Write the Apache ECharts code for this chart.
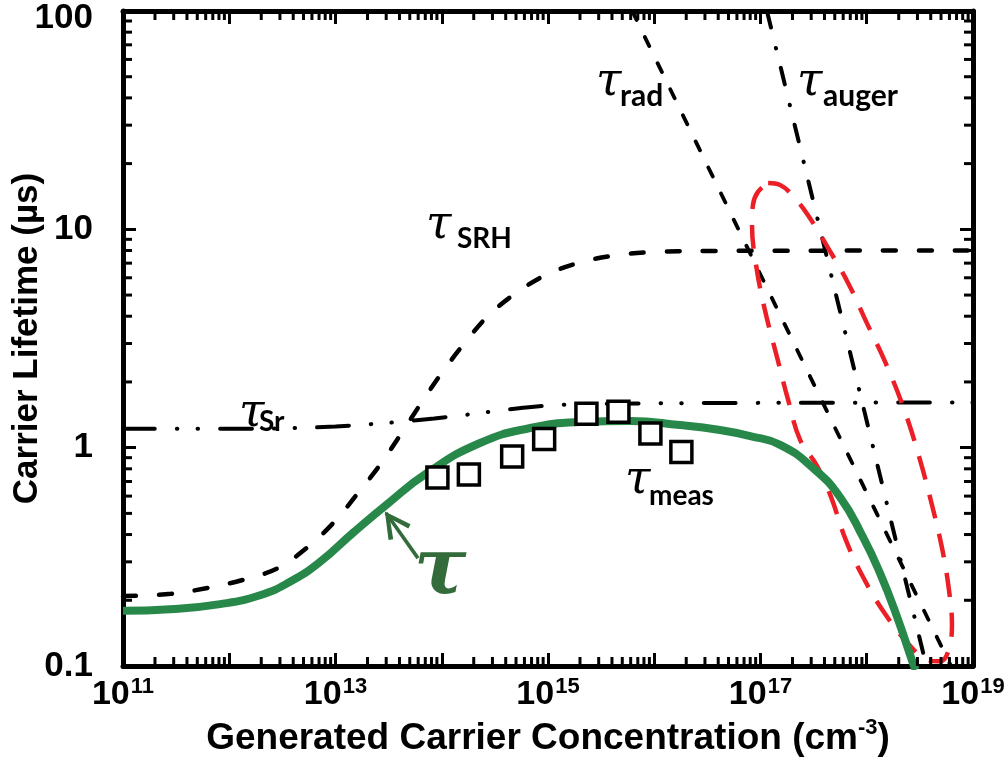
<!DOCTYPE html>
<html>
<head>
<meta charset="utf-8">
<script src="https://cdn.jsdelivr.net/npm/echarts@6/dist/echarts.min.js"></script>
<style>
  html, body { margin: 0; padding: 0; background: #fff; }
  #chart { width: 1008px; height: 762px; }
</style>
</head>
<body>
<div id="chart"></div>
<script>
// ---- Axis ranges -------------------------------------------------------
const xMin = 1e11, xMax = 1e19;
const yMin = 0.1, yMax = 100;

// ---- Tick labels -------------------------------------------------------
const xLabelExps = [11, 13, 15, 17, 19];
const yTickValues = [0.1, 1, 10, 100];
const yTickLabels = ['0.1', '1', '10', '100'];
const minorSteps = [2, 3, 4, 5, 6, 7, 8, 9];

// ---- Lifetime components (carrier concentration in cm^-3, lifetime in µs)
const srhN = [1e11, 2.83e11, 6.3e11, 1.35e12, 2.88e12, 5.5e12, 9.9e12, 1.63e13, 2.62e13, 4.13e13, 6.4e13, 1.0e14, 1.62e14, 2.72e14, 5.0e14, 1e15, 2.09e15, 4.66e15, 1.04e16, 2.69e16, 1e19];
const srhT = [0.209, 0.214, 0.228, 0.248, 0.281, 0.351, 0.461, 0.620, 0.833, 1.155, 1.60, 2.20, 2.99, 4.01, 5.11, 6.25, 7.09, 7.64, 7.88, 7.96, 8.0];

const srN = [1e11, 1.2e12, 1e13, 8.5e13, 7.4e14, 3.1e15, 1e19];
const srT = [1.22, 1.22, 1.25, 1.36, 1.54, 1.59, 1.61];

const radN = [6.2e15, 6.2e18];
const radT = [100, 0.1];

const augerN = [1.15e17, 3.64e18];
const augerT = [100, 0.1];

// Effective lifetime
const tauN = [1e11, 2.77e11, 8.2e11, 1.95e12, 3.73e12, 7.1e12, 1.46e13, 3.05e13, 7.3e13, 2.29e14, 6.8e14, 2.0e15, 5.9e15, 1.74e16, 4.16e16, 8.0e16, 1.53e17, 3.12e17, 5.6e17, 9.2e17, 1.33e18, 1.93e18, 2.72e18, 2.9e18];
const tauT = [0.179, 0.182, 0.192, 0.211, 0.243, 0.299, 0.407, 0.55, 0.766, 1.05, 1.23, 1.31, 1.325, 1.27, 1.205, 1.13, 1.03, 0.807, 0.594, 0.390, 0.267, 0.168, 0.103, 0.096];

// Measured lifetimes
const measN = [9.1e13, 1.8e14, 4.6e14, 9.2e14, 2.3e15, 4.6e15, 9.2e15, 1.8e16];
const measT = [0.73, 0.754, 0.911, 1.096, 1.43, 1.46, 1.16, 0.955];

// Highlight loop around the high-injection crossover
const loopN = [1.18e17, 1.53e17, 1.98e17, 2.80e17, 4.32e17, 6.67e17, 1.00e18, 1.49e18, 2.29e18, 3.17e18, 4.11e18, 5.11e18, 5.94e18, 6.34e18, 5.82e18, 4.89e18, 3.77e18, 2.67e18, 1.49e18, 9.02e17, 6.24e17, 4.61e17, 3.40e17, 2.36e17, 1.82e17, 1.43e17, 1.10e17, 9.08e16, 8.32e16, 8.49e16, 9.46e16, 1.18e17];
const loopT = [16.3, 15.97, 14.38, 11.6, 8.22, 5.68, 3.73, 2.47, 1.46, 0.879, 0.546, 0.347, 0.223, 0.154, 0.116, 0.105, 0.1065, 0.121, 0.173, 0.261, 0.386, 0.595, 0.825, 1.085, 1.654, 2.60, 4.27, 6.87, 10.47, 12.94, 14.84, 16.3];

// Arrow pointing at the effective-lifetime curve (tail, tip)
const arrowN = [5.97e13, 2.99e13];
const arrowT = [0.312, 0.502];

// ---- Styling ------------------------------------------------------------
const GREEN = '#27884a';
const DARK_GREEN = '#346b3b';
const RED = '#ec1f27';
const AXIS_FONT = '"Liberation Sans", Arial, sans-serif';
const TAU_FONT = '"DejaVu Serif", serif';
const SUB_FONT = 'Lato, "Open Sans", sans-serif';
const MAJOR_LEN = 13, MINOR_LEN = 9, TICK_W = 3;

const zip = (a, b) => a.map((v, i) => [v, b[i]]);

// Minor tick positions (2..9 within each decade)
const xMinor = [];
for (let e = 11; e < 19; e++) minorSteps.forEach(k => xMinor.push(k * Math.pow(10, e)));
const yMinor = [];
for (let e = -1; e < 2; e++) minorSteps.forEach(k => yMinor.push(k * Math.pow(10, e)));

const tickStyle = { stroke: '#000', lineWidth: TICK_W };

function xMinorTicks(params, api) {
  const v = api.value(0);
  const b = api.coord([v, yMin]);
  const t = api.coord([v, yMax]);
  return {
    type: 'group', children: [
      { type: 'line', shape: { x1: b[0], y1: b[1], x2: b[0], y2: b[1] - MINOR_LEN }, style: tickStyle },
      { type: 'line', shape: { x1: t[0], y1: t[1], x2: t[0], y2: t[1] + MINOR_LEN }, style: tickStyle }
    ]
  };
}
function yMinorTicks(params, api) {
  const v = api.value(1);
  const l = api.coord([xMin, v]);
  const r = api.coord([xMax, v]);
  return {
    type: 'group', children: [
      { type: 'line', shape: { x1: l[0], y1: l[1], x2: l[0] + MINOR_LEN, y2: l[1] }, style: tickStyle },
      { type: 'line', shape: { x1: r[0], y1: r[1], x2: r[0] - MINOR_LEN, y2: r[1] }, style: tickStyle }
    ]
  };
}

const frameLine = { show: true, lineStyle: { color: '#000', width: 5 } };
const majorTick = { show: true, inside: true, length: MAJOR_LEN, lineStyle: { color: '#000', width: TICK_W } };

// Open chevron arrowhead; a tiny point above keeps the tip at the symbol centre
const chevron = 'path://M0,-19.2L0.02,-19.2L0,-19.18Z M0,-1.5L10.2,17.6L7,19.2L0,5L-7,19.2L-10.2,17.6Z';

// ---- Annotation labels: [tau left, tau middle-y, sub left, sub middle-y, subscript, sub size]
const labelSpecs = [
  [596, 83, 620, 96, 'rad', 30],
  [797, 83, 823, 96, 'auger', 30],
  [426, 226, 457, 239, 'SRH', 28],
  [239, 414, 259, 422, 'Sr', 28],
  [625, 481, 649, 496, 'meas', 28]
];
const graphics = [];
labelSpecs.forEach(s => {
  graphics.push({ type: 'text', x: s[0], y: s[1], z: 100,
    style: { text: 'τ', fontFamily: TAU_FONT, fontStyle: 'italic', fontSize: 46, fill: '#000', verticalAlign: 'middle' } });
  graphics.push({ type: 'text', x: s[2], y: s[3], z: 100,
    style: { text: s[4], fontFamily: SUB_FONT, fontWeight: 'bold', fontSize: s[5], fill: '#000', verticalAlign: 'middle' } });
});
graphics.push({ type: 'text', x: 414, y: 573, z: 100,
  style: { text: 'τ', fontFamily: TAU_FONT, fontStyle: 'italic', fontWeight: 'bold', fontSize: 78, fill: DARK_GREEN, verticalAlign: 'middle' } });

const chart = echarts.init(document.getElementById('chart'), null, { renderer: 'canvas' });

chart.setOption({
  animation: false,
  backgroundColor: '#fff',
  grid: { left: 123, right: 35, top: 11, bottom: 96, containLabel: false, outerBoundsMode: 'none' },
  xAxis: [
    {
      type: 'log', logBase: 10, min: xMin, max: xMax, position: 'bottom',
      splitLine: { show: false }, axisLine: frameLine, axisTick: majorTick,
      axisLabel: {
        margin: 10, showMinLabel: true, showMaxLabel: true, hideOverlap: false,
        formatter: v => {
          const e = Math.round(Math.log10(v));
          return xLabelExps.indexOf(e) >= 0 ? '{b|10}{s|' + e + '}' : '';
        },
        rich: {
          b: { fontFamily: AXIS_FONT, fontWeight: 'bold', fontSize: 34, color: '#000', lineHeight: 36, verticalAlign: 'bottom' },
          s: { fontFamily: AXIS_FONT, fontWeight: 'bold', fontSize: 22, color: '#000', lineHeight: 36, verticalAlign: 'top', padding: [0, 0, 0, 1] }
        }
      },
      name: '{t|Generated Carrier Concentration (cm}{s|-3}{t|)}',
      nameLocation: 'middle', nameGap: 40,
      nameTextStyle: {
        rich: {
          t: { fontFamily: AXIS_FONT, fontWeight: 'bold', fontSize: 37, color: '#000', lineHeight: 40, verticalAlign: 'bottom' },
          s: { fontFamily: AXIS_FONT, fontWeight: 'bold', fontSize: 22, color: '#000', lineHeight: 40, verticalAlign: 'top' }
        }
      }
    },
    {
      type: 'log', logBase: 10, min: xMin, max: xMax, position: 'top',
      splitLine: { show: false }, axisLine: frameLine, axisTick: majorTick, axisLabel: { show: false }
    }
  ],
  yAxis: [
    {
      type: 'log', logBase: 10, min: yMin, max: yMax, position: 'left',
      splitLine: { show: false }, axisLine: frameLine, axisTick: majorTick,
      axisLabel: {
        margin: 30, fontFamily: AXIS_FONT, fontWeight: 'bold', fontSize: 35, color: '#000',
        showMinLabel: true, showMaxLabel: true,
        formatter: v => {
          const i = yTickValues.findIndex(t => Math.abs(Math.log10(t) - Math.log10(v)) < 1e-6);
          if (i < 0) return '';
          return i === yTickValues.length - 1 ? '{top|' + yTickLabels[i] + '}' : yTickLabels[i];
        },
        rich: {
          top: { fontFamily: AXIS_FONT, fontWeight: 'bold', fontSize: 35, color: '#000', padding: [14, 0, 0, 0] }
        }
      },
      name: 'Carrier Lifetime (µs)', nameLocation: 'middle', nameGap: 78, nameMoveOverlap: false,
      nameTextStyle: { fontFamily: AXIS_FONT, fontWeight: 'bold', fontSize: 35, color: '#000' }
    },
    {
      type: 'log', logBase: 10, min: yMin, max: yMax, position: 'right',
      splitLine: { show: false }, axisLine: frameLine, axisTick: majorTick, axisLabel: { show: false }
    }
  ],
  graphic: graphics,
  series: [
    {
      name: 'τSRH', type: 'line', data: zip(srhN, srhT), smooth: 0.35, showSymbol: false, z: 2,
      lineStyle: { color: '#000', width: 4.5, type: [13, 23], cap: 'round' }
    },
    {
      name: 'τSr', type: 'line', data: zip(srN, srT), smooth: 0.3, showSymbol: false, z: 2,
      lineStyle: { color: '#000', width: 4, type: [32, 22, 0.5, 20, 0.5, 22], cap: 'round' }
    },
    {
      name: 'τrad', type: 'line', data: zip(radN, radT), showSymbol: false, z: 2,
      lineStyle: { color: '#000', width: 3.8, type: [10, 19], cap: 'round' }
    },
    {
      name: 'τauger', type: 'line', data: zip(augerN, augerT), showSymbol: false, z: 2,
      lineStyle: { color: '#000', width: 4, type: [17, 21, 0.5, 20], cap: 'round' }
    },
    {
      name: 'loop', type: 'line', data: zip(loopN, loopT), smooth: 0.4, showSymbol: false, z: 2,
      lineStyle: { color: RED, width: 4.5, type: [24, 16], cap: 'butt' }
    },
    {
      name: 'τ', type: 'line', data: zip(tauN, tauT), smooth: 0.5, showSymbol: false, z: 3,
      lineStyle: { color: GREEN, width: 8 },
      markLine: {
        silent: true, animation: false,
        symbol: ['none', chevron], symbolSize: [27, 51],
        label: { show: false },
        lineStyle: { color: DARK_GREEN, width: 3.6, type: 'solid' },
        itemStyle: { color: DARK_GREEN },
        data: [[{ coord: [arrowN[0], arrowT[0]] }, { coord: [arrowN[1], arrowT[1]] }]]
      }
    },
    {
      name: 'τmeas', type: 'scatter', data: zip(measN, measT), symbol: 'rect', symbolSize: 21, z: 4,
      itemStyle: { color: '#fff', borderColor: '#000', borderWidth: 3.5, opacity: 1 }
    },
    {
      type: 'custom', data: xMinor.map(v => [v, yMin]), renderItem: xMinorTicks, clip: false, silent: true, z: 5
    },
    {
      type: 'custom', data: yMinor.map(v => [xMin, v]), renderItem: yMinorTicks, clip: false, silent: true, z: 5
    }
  ]
});
</script>
</body>
</html>
